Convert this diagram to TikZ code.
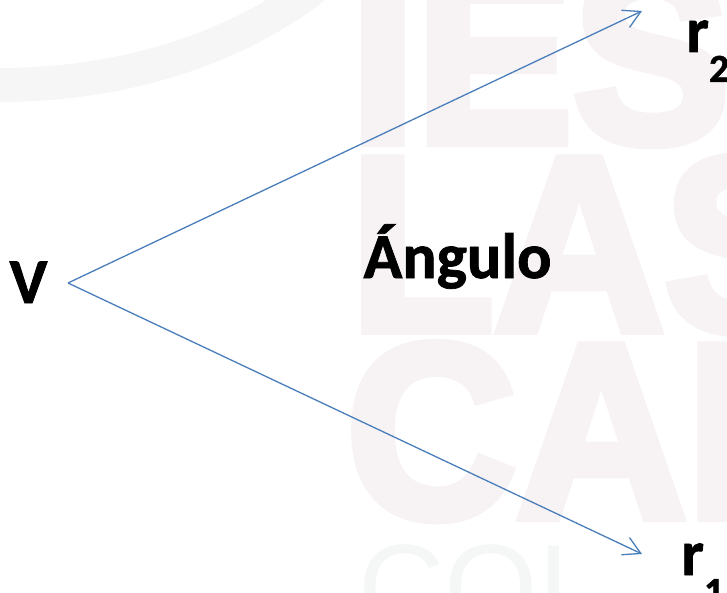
\documentclass[tikz,border=0pt]{standalone}
\usepackage{fontspec}
\setmainfont{Carlito}[BoldFont={Carlito Bold}, BoldFeatures={FakeBold=1.2}]
\newfontfamily\wmfont{Liberation Sans}[BoldFeatures={FakeBold=4}]
\usetikzlibrary{arrows.meta}
\definecolor{rayblue}{HTML}{4A7EBB}
\definecolor{wmpink}{HTML}{F7F3F4}
\definecolor{wmgreen}{HTML}{F4F7F6}
\definecolor{wmarc}{HTML}{F7F6F6}
\tikzset{
  ray/.style={draw=rayblue, line width=1.3pt, -{Straight Barb[length=17pt,width=19pt]}},
  lbl/.style={font=\bfseries\fontsize{64}{64}\selectfont, text=black, inner sep=0pt, anchor=base},
  wmbig/.style={font=\wmfont\bfseries\fontsize{248}{248}\selectfont, text=wmpink, inner sep=0pt, anchor=base west},
  wmthin/.style={font=\wmfont\fontsize{120}{120}\selectfont, text=wmgreen, inner sep=0pt, anchor=base west}
}
\begin{document}
\begin{tikzpicture}[x=1pt,y=-1pt]
\useasboundingbox (0,0) rectangle (727,593);
\begin{scope}
\clip (0,0) rectangle (727,593);
% faint watermark
\fill[wmarc, even odd rule] (0,-200) ellipse [x radius=434, y radius=302] (0,-200) ellipse [x radius=400, y radius=268];
\node[wmbig, xscale=0.95] (wm1) at (350,142) {IES};
\node[wmbig, xscale=0.95] (wm2) at (350,330) {LAS};
\node[wmbig, xscale=0.95] (wm3) at (346,517) {CAN};
\node[wmthin] (wm4) at (358,628) {COL};
\end{scope}
% rays
\coordinate (v) at (68,283);
\coordinate (t2) at (642,11);
\coordinate (t1) at (642,554);
\draw[ray] (v) -- (t2);
\draw[ray] (v) -- (t1);
% labels
\node[lbl] (lv) at (28.5,303) {V};
\node[lbl] (ang) at (457.5,278) {Ángulo};
\node[lbl, anchor=base west] (r2) at (686,52) {r\raisebox{-30pt}{\bfseries\fontsize{40}{40}\selectfont 2}};
\node[lbl, anchor=base west] (r1) at (681,575) {r\raisebox{-30pt}{\bfseries\fontsize{40}{40}\selectfont 1}};
\end{tikzpicture}
\end{document}
